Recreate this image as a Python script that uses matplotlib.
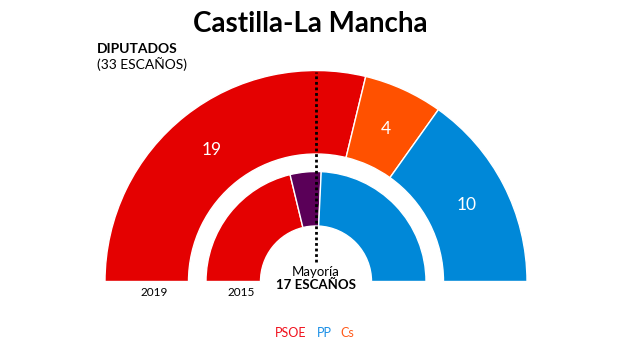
import matplotlib
matplotlib.use('Agg')
import numpy as np
import matplotlib.pyplot as plt
from matplotlib.patches import Wedge

plt.rcParams['font.family'] = ['Lato', 'DejaVu Sans']

# seats per party, 33 in total
parties_2019 = ['PSOE', 'Cs', 'PP']
seats_2019 = [19, 4, 10]
colors_2019 = ['#e40101', '#ff5100', '#0088d8']

parties_2015 = ['PSOE', 'Podemos', 'PP']
seats_2015 = [14, 3, 16]
colors_2015 = ['#e40101', '#5a0058', '#0088d8']

total = 33
majority = 17
legend_names = ['PSOE', 'PP', 'Cs']
legend_colors = ['#f0101c', '#1a8fe6', '#ff5a1a']

fig = plt.figure(figsize=(6.24, 3.49), dpi=100)
ax = fig.add_axes([0, 0, 1, 1])
ax.set_xlim(0, 624)
ax.set_ylim(0, 349)
ax.set_aspect('equal')
ax.axis('off')

cx, cy = 316, 67.5


def ring(seats, colors, r_out, width, labels=False):
    start = 180.0
    for s, c in zip(seats, colors):
        span = s / total * 180.0
        ax.add_patch(Wedge((cx, cy), r_out, start - span, start, width=width,
                           facecolor=c, edgecolor='white', linewidth=1))
        if labels:
            mid = np.radians(start - span / 2)
            rm = r_out - width / 2
            ax.text(cx + rm * np.cos(mid), cy + rm * np.sin(mid), str(s),
                    color='white', fontsize=12.5, ha='center', va='center_baseline')
        start -= span


ring(seats_2019, colors_2019, 211, 83.5, labels=True)
ring(seats_2015, colors_2015, 110, 54.5)

# majority line
ax.plot([cx, cx], [cy + 20, cy + 210], color='black', linestyle=(0, (1, 1)),
        linewidth=2)

ax.text(310.5, 325, 'Castilla-La Mancha', fontsize=20, fontweight='bold',
        ha='center', va='center')
ax.text(97, 300, 'DIPUTADOS', fontsize=10, fontweight='bold', ha='left', va='center')
ax.text(97, 285, '(33 ESCAÑOS)', fontsize=10, ha='left', va='center')

ax.text(154, 56, '2019', fontsize=8.5, ha='center', va='center')
ax.text(241, 56, '2015', fontsize=8.5, ha='center', va='center')
ax.text(cx, 77, 'Mayoría', fontsize=9.5, ha='center', va='center')
ax.text(cx, 64, f'{majority} ESCAÑOS', fontsize=9.5, fontweight='bold',
        ha='center', va='center')

xs = [290.5, 324, 347]
for name, col, x in zip(legend_names, legend_colors, xs):
    ax.text(x, 16, name, color=col, fontsize=9, ha='center', va='center')

fig.savefig('out.png', dpi=100)
